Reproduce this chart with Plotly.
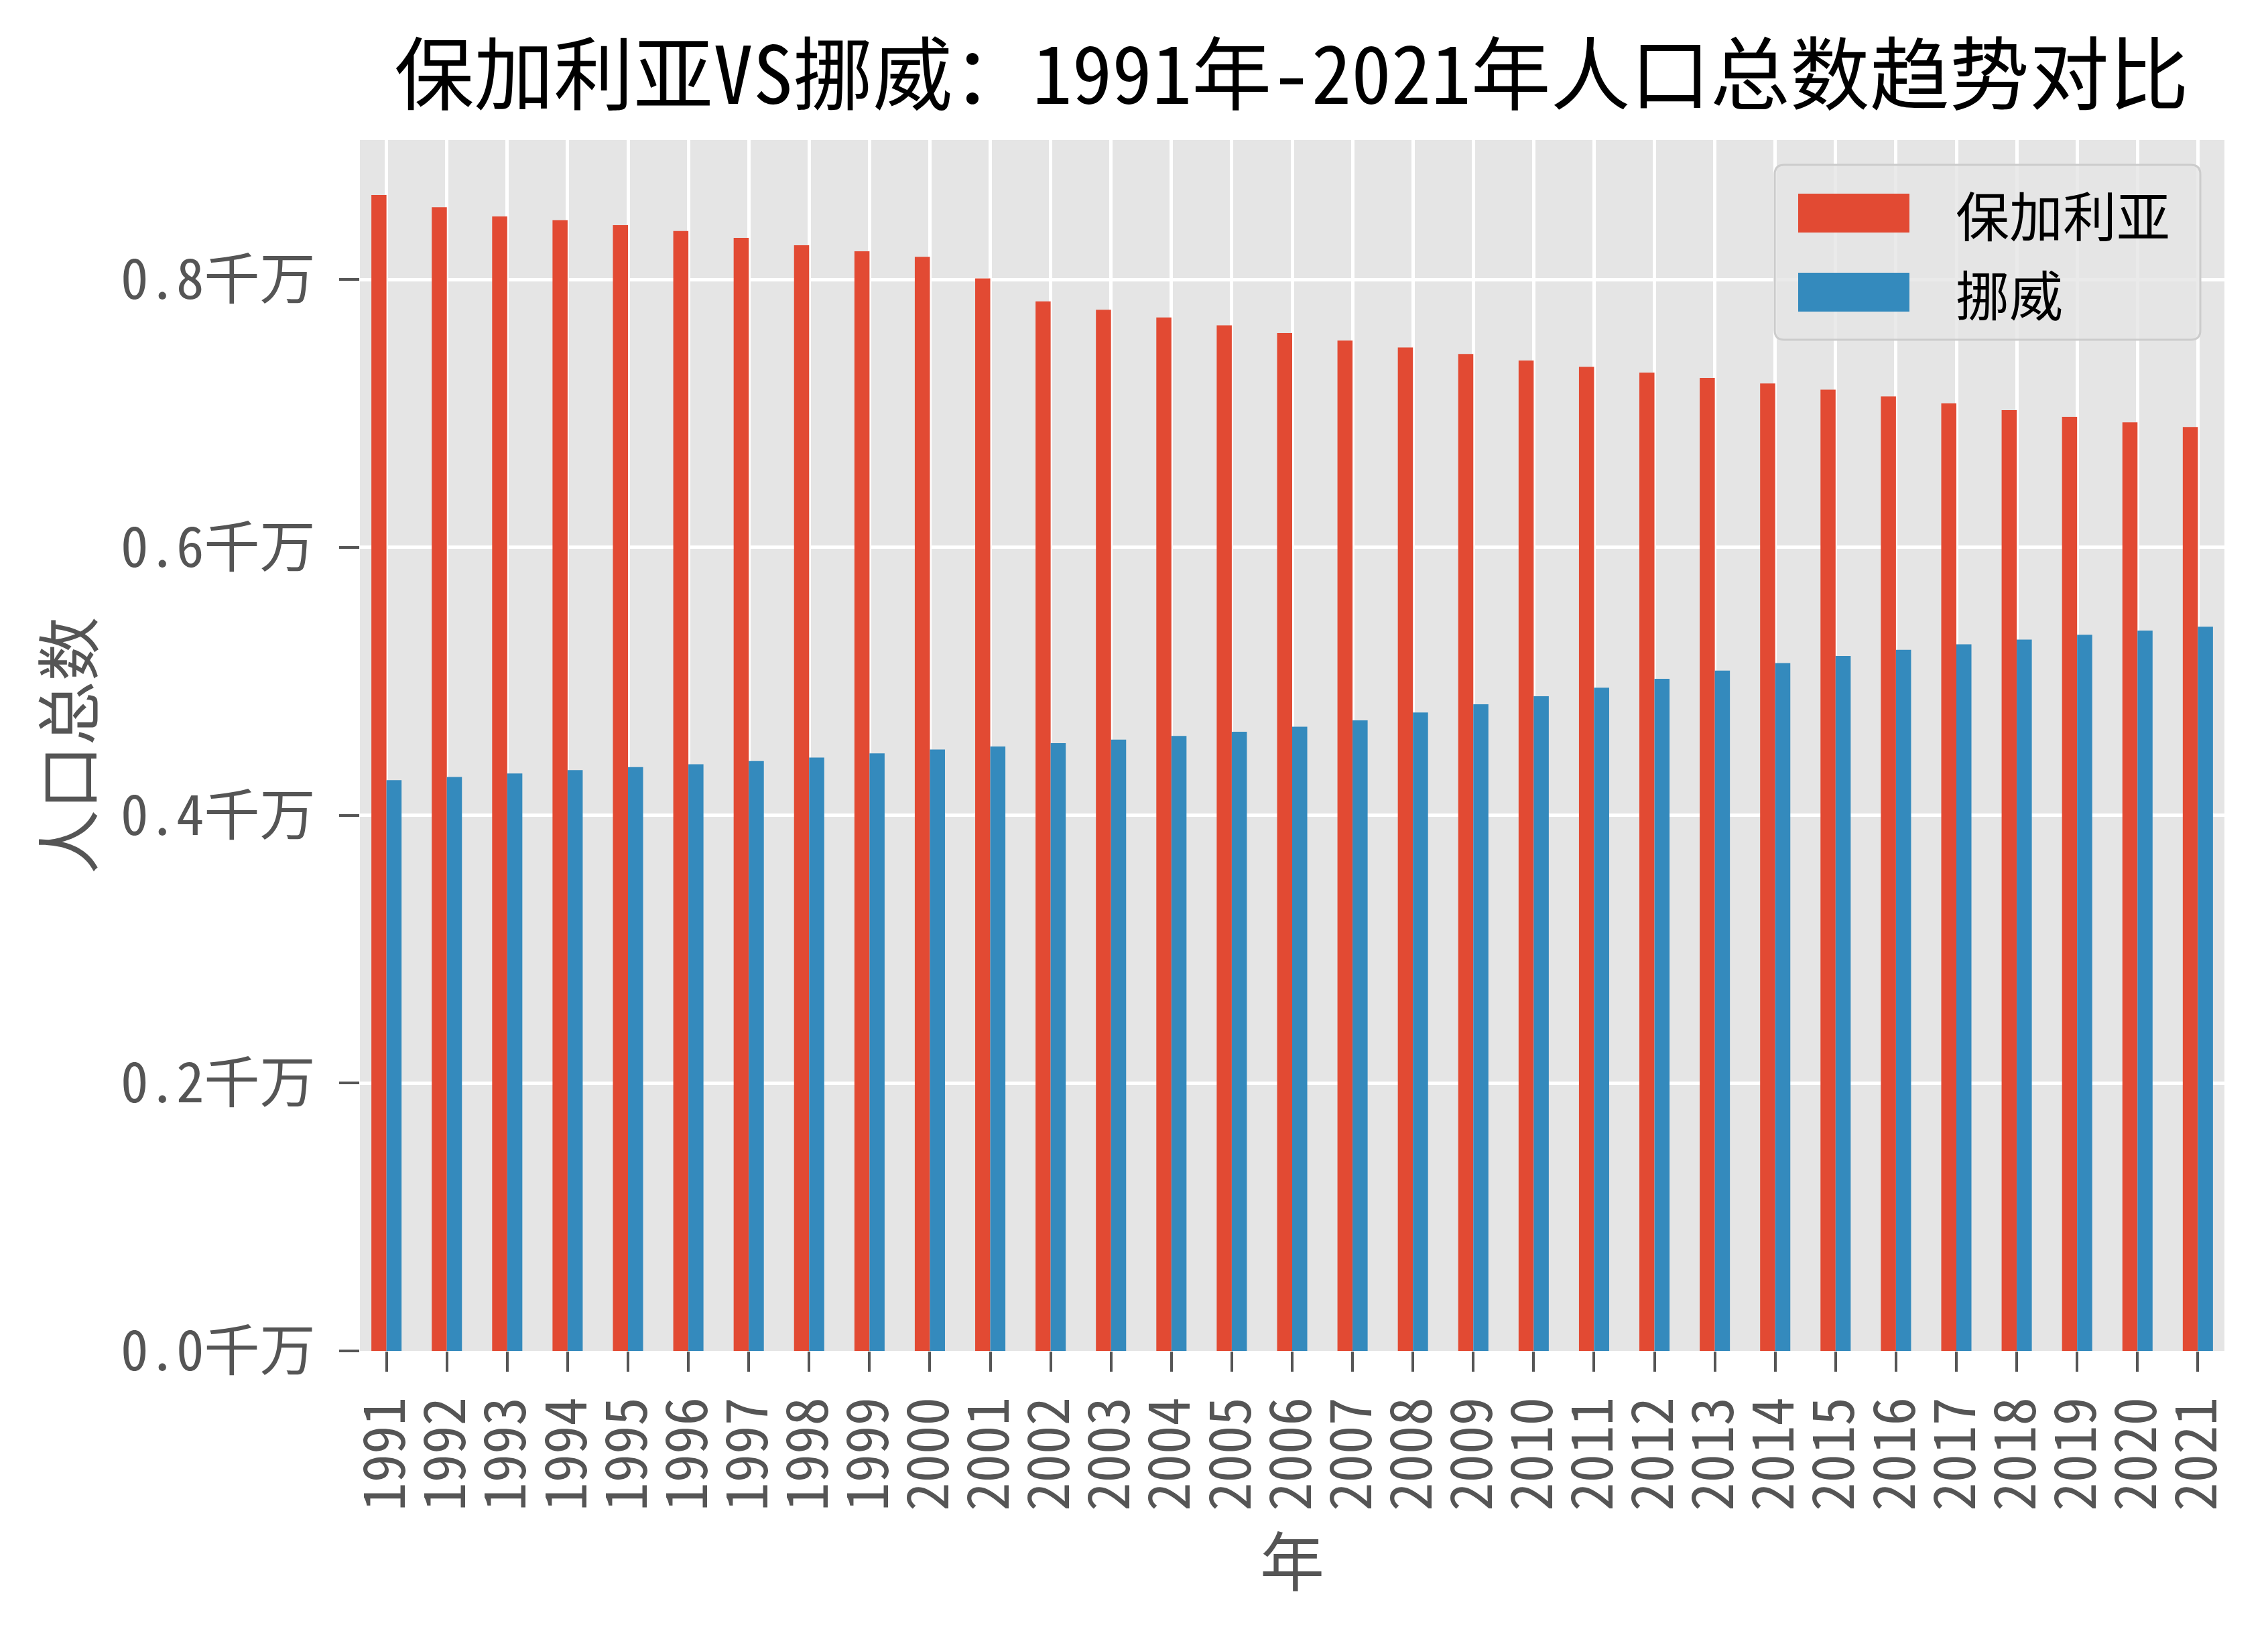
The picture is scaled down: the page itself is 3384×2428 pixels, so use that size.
import plotly.graph_objects as go

# ---------------- data ----------------
years = ["1991", "1992", "1993", "1994", "1995", "1996", "1997", "1998", "1999", "2000",
         "2001", "2002", "2003", "2004", "2005", "2006", "2007", "2008", "2009", "2010",
         "2011", "2012", "2013", "2014", "2015", "2016", "2017", "2018", "2019", "2020", "2021"]
# population, unit: 千万 (10 million)
bulgaria = [0.8632, 0.8540, 0.8472, 0.8444, 0.8406, 0.8363, 0.8312, 0.8257, 0.8211, 0.8170,
            0.8009, 0.7837, 0.7775, 0.7717, 0.7659, 0.7601, 0.7545, 0.7493, 0.7444, 0.7396,
            0.7348, 0.7306, 0.7265, 0.7224, 0.7178, 0.7128, 0.7076, 0.7025, 0.6976, 0.6934, 0.6899]
norway = [0.4262, 0.4286, 0.4312, 0.4337, 0.4359, 0.4381, 0.4405, 0.4431, 0.4462, 0.4491,
          0.4514, 0.4538, 0.4565, 0.4592, 0.4623, 0.4661, 0.4709, 0.4768, 0.4829, 0.4889,
          0.4953, 0.5019, 0.5080, 0.5137, 0.5189, 0.5235, 0.5277, 0.5312, 0.5348, 0.5379, 0.5408]
series_names = ["保加利亚", "挪威"]
y_tickvals = [0.0, 0.2, 0.4, 0.6, 0.8]
y_ticktext = ["0.0千万", "0.2千万", "0.4千万", "0.6千万", "0.8千万"]
title_text = "保加利亚VS挪威：1991年-2021年人口总数趋势对比"
x_title = "年"
y_title = "人口总数"

# ---------------- style ----------------
RED = "#E24A33"
BLUE = "#348ABD"
MONO = "Noto Sans Mono CJK SC, Noto Sans CJK SC, sans-serif"
W, H = 3384, 2428
L, R, T, B = 537, 65, 209, 412
PW, PH = W - L - R, H - T - B

def px_x(p):
    return (p - L) / PW

def px_y(p):
    return (H - B - p) / PH

fig = go.Figure()
fig.add_trace(go.Bar(x=years, y=bulgaria, name=series_names[0], marker_color=RED,
                     marker_line_width=0, showlegend=False))
fig.add_trace(go.Bar(x=years, y=norway, name=series_names[1], marker_color=BLUE,
                     marker_line_width=0, showlegend=False))

# custom legend (matplotlib style large swatches)
def rounded_rect(x0, y0, x1, y1, r_px=14):
    rx, ry = r_px / PW, r_px / PH
    return (f"M{x0+rx},{y0} L{x1-rx},{y0} Q{x1},{y0} {x1},{y0+ry} "
            f"L{x1},{y1-ry} Q{x1},{y1} {x1-rx},{y1} L{x0+rx},{y1} Q{x0},{y1} {x0},{y1-ry} "
            f"L{x0},{y0+ry} Q{x0},{y0} {x0+rx},{y0} Z")

shapes = [dict(type="path", xref="paper", yref="paper",
               path=rounded_rect(px_x(2648), px_y(507), px_x(3283), px_y(246)),
               fillcolor="rgba(229,229,229,0.8)", line=dict(color="rgba(204,204,204,1)", width=3),
               layer="above")]
swatches = [(RED, 289, 347), (BLUE, 407, 465)]
annotations = []
for (col, y0, y1), name in zip(swatches, series_names):
    shapes.append(dict(type="rect", xref="paper", yref="paper",
                       x0=px_x(2683), x1=px_x(2849), y0=px_y(y1), y1=px_y(y0),
                       fillcolor=col, line=dict(width=0), layer="above"))
    annotations.append(dict(text=name, xref="paper", yref="paper", x=px_x(2916),
                            y=px_y((y0 + y1) / 2), xanchor="left", yanchor="middle",
                            showarrow=False, font=dict(family=MONO, size=80, color="black")))

fig.update_layout(
    width=W, height=H,
    margin=dict(l=L, r=R, t=T, b=B, pad=0),
    paper_bgcolor="white", plot_bgcolor="#E5E5E5",
    barmode="group", bargap=0.5, bargroupgap=0,
    title=dict(text=title_text, x=px_x(1927), xref="paper", xanchor="center",
               y=1 - 113 / H, yref="container", yanchor="middle",
               font=dict(family=MONO, size=119, color="black")),
    shapes=shapes, annotations=annotations,
    showlegend=False,
)
fig.update_xaxes(type="category", range=[-0.44, 30.44], showgrid=True, gridcolor="white",
                 gridwidth=4.5, zeroline=False, showline=False,
                 tickmode="array", tickvals=years, ticktext=years,
                 ticks="outside", ticklen=30, tickwidth=4, tickcolor="#555555",
                 tickangle=-90, ticklabelstandoff=4,
                 tickfont=dict(family=MONO, size=85, color="#555555"),
                 title=dict(text=x_title, standoff=28, font=dict(family=MONO, size=96, color="#555555")))
fig.update_yaxes(range=[0, 0.9042], tickvals=y_tickvals, ticktext=y_ticktext,
                 showgrid=True, gridcolor="white", gridwidth=4.5, zeroline=False, showline=False,
                 ticks="outside", ticklen=30, tickwidth=4, tickcolor="#555555",
                 ticklabelstandoff=19,
                 tickfont=dict(family=MONO, size=83, color="#555555"),
                 title=dict(text=y_title, standoff=9, font=dict(family=MONO, size=96, color="#555555")))

fig.write_html("out.html", config={"displayModeBar": False},
               post_script="document.body.style.margin='0';")
